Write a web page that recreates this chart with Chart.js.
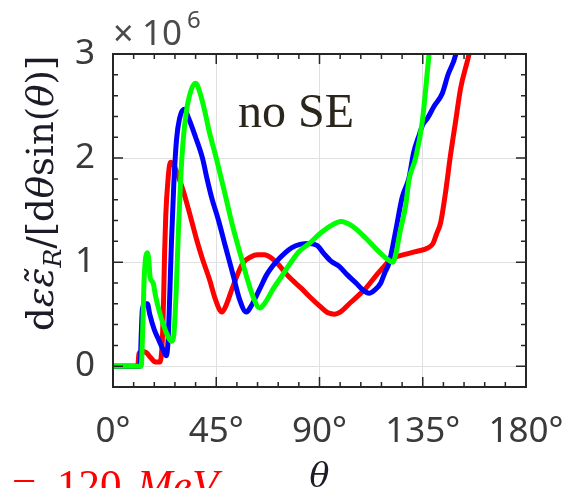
<!DOCTYPE html>
<html>
<head>
<meta charset="utf-8">
<script src="https://cdn.jsdelivr.net/npm/chart.js@4.4.1/dist/chart.umd.min.js"></script>
<style>
  html, body { margin: 0; padding: 0; background: #fff; }
</style>
</head>
<body>
<canvas id="myChart" width="566" height="488"></canvas>
<script>
// emission angle (deg) and dE/(dtheta sin theta) in units of 1e6
var thetaRed = [0, 10.8, 11.3, 12.5, 14.5, 16.5, 18.5, 20.5, 21.5, 22, 22.5, 23, 24, 25, 26.5, 29, 30.4, 33, 36.4, 39, 42.1, 44.5, 46.5, 47.5, 49, 52, 55, 57, 60, 63, 66, 69, 72, 75, 78, 82, 85.6, 90, 94, 96.5, 99, 103, 107, 110.2, 115, 119, 121, 124.7, 131.9, 137.5, 139.5, 141, 142.8, 145, 147.1, 149.3, 151.5, 155.1, 157];
var valRed   = [0, 0, 0.12, 0.14, 0.13, 0.08, 0.04, 0.04, 0.25, 0.6, 1.1, 1.45, 1.8, 1.96, 1.93, 1.79, 1.7, 1.5, 1.22, 1.03, 0.83, 0.65, 0.54, 0.52, 0.57, 0.75, 0.92, 1.0, 1.05, 1.07, 1.07, 1.04, 0.98, 0.9, 0.83, 0.75, 0.67, 0.58, 0.51, 0.5, 0.52, 0.6, 0.68, 0.75, 0.88, 0.98, 1.03, 1.06, 1.1, 1.14, 1.18, 1.27, 1.38, 1.68, 2.03, 2.35, 2.67, 2.99, 3.2];

var thetaBlue = [0, 11.8, 12.3, 12.8, 14, 15, 16, 18, 20, 22, 23.3, 24, 25.5, 26.5, 27.7, 29, 31, 33, 36, 39, 41, 43, 46, 49, 52.3, 55.2, 58.1, 60, 63.9, 67, 71, 75, 78, 81.5, 85.6, 89, 92, 95, 98.6, 102, 105.9, 109, 111.6, 114, 116.7, 118.5, 120.3, 123.2, 126, 129, 131, 133.4, 135, 137, 140, 143.5, 146, 149.3, 151];
var valBlue   = [0, 0, 0.3, 0.55, 0.6, 0.6, 0.5, 0.35, 0.25, 0.15, 0.1, 0.25, 1.2, 1.75, 2.18, 2.38, 2.47, 2.38, 2.2, 2.0, 1.8, 1.62, 1.4, 1.15, 0.88, 0.64, 0.52, 0.57, 0.74, 0.88, 1.0, 1.09, 1.14, 1.17, 1.18, 1.16, 1.08, 1.01, 0.96, 0.88, 0.8, 0.73, 0.7, 0.73, 0.8, 0.9, 0.99, 1.3, 1.62, 1.81, 2.05, 2.22, 2.32, 2.38, 2.5, 2.62, 2.8, 2.99, 3.2];

var thetaGreen = [0, 12.3, 13, 13.6, 14.9, 15.6, 16.2, 17.5, 18.5, 20.4, 23.3, 25.5, 26.5, 27.5, 28.5, 29.5, 30.5, 32, 34, 36, 38, 40, 42, 45, 49.4, 52.2, 56.6, 58.1, 61, 63.9, 66, 70, 74, 77.6, 81, 85.6, 90, 95, 99.3, 104, 110.2, 115, 118.9, 122, 123.5, 125, 127.6, 129, 131.9, 134.8, 136, 137.7, 138.5];
var valGreen   = [0, 0, 0.4, 0.85, 1.09, 1.02, 0.85, 0.8, 0.68, 0.51, 0.32, 0.24, 0.3, 0.7, 1.3, 1.8, 2.15, 2.45, 2.65, 2.72, 2.62, 2.45, 2.25, 2.0, 1.6, 1.34, 0.99, 0.87, 0.67, 0.56, 0.6, 0.75, 0.88, 1.0, 1.1, 1.18, 1.27, 1.35, 1.39, 1.35, 1.23, 1.12, 1.04, 1.0, 1.1, 1.28, 1.55, 1.79, 2.0, 2.35, 2.6, 2.99, 3.2];

var xMajor = [0, 45, 90, 135, 180];
var yMajor = [0, 1, 2, 3];
var xMinorStep = 9;
var yMinorStep = 0.2;

function pts(xs, ys) {
  return xs.map(function (x, i) { return { x: x, y: ys[i] }; });
}

var tickFont = { family: 'Noto Sans', size: 35 };
var tickColor = '#3a3a3a';

function drawBox(chart) {
  var ctx = chart.ctx, a = chart.chartArea;
  var xs = chart.scales.x, ys = chart.scales.y;
  ctx.save();
  ctx.strokeStyle = '#262626';
  ctx.lineWidth = 1.5;
  ctx.beginPath();
  for (var t = 0; t <= 180; t += xMinorStep) {
    var px = xs.getPixelForValue(t);
    var len = xMajor.indexOf(t) >= 0 ? 10 : 5;
    ctx.moveTo(px, a.bottom); ctx.lineTo(px, a.bottom - len);
    ctx.moveTo(px, a.top); ctx.lineTo(px, a.top + len);
  }
  for (var k = 0; k <= 16; k++) {
    var v = -0.2 + k * yMinorStep;
    var py = ys.getPixelForValue(v);
    var len2 = Math.abs(v - Math.round(v)) < 1e-6 ? 10 : 5;
    ctx.moveTo(a.left, py); ctx.lineTo(a.left + len2, py);
    ctx.moveTo(a.right, py); ctx.lineTo(a.right - len2, py);
  }
  ctx.stroke();
  ctx.lineWidth = 2;
  ctx.strokeRect(a.left, a.top, a.right - a.left, a.bottom - a.top);
  ctx.restore();
}

function drawRuns(ctx, runs, x, y) {
  runs.forEach(function (r) {
    ctx.font = r.font;
    ctx.fillText(r.text, x, y + (r.dy || 0));
    x += ctx.measureText(r.text).width;
  });
}

// axes box, y label, exponent, panel label and energy note
var decorPlugin = {
  id: 'decor',
  afterDraw: function (chart) {
    drawBox(chart);
    var ctx = chart.ctx;
    ctx.save();
    ctx.textBaseline = 'alphabetic';
    ctx.textAlign = 'left';

    ctx.fillStyle = '#4a4a4a';
    ctx.font = '36px "Noto Sans"';
    ctx.fillText('\u00d7', 113, 46);
    ctx.font = '35px "Noto Sans"';
    ctx.fillText('10', 142, 45);
    ctx.font = '24px "Noto Sans"';
    ctx.fillText('6', 187, 28);

    ctx.fillStyle = '#2b261c';
    ctx.font = '48px "Liberation Serif"';
    ctx.fillText('no SE', 238, 127);

    ctx.save();
    ctx.translate(53, 331);
    ctx.rotate(-Math.PI / 2);
    ctx.fillStyle = '#1c1c28';
    var rm = '37px "DejaVu Serif"', it = 'italic 37px "DejaVu Serif"';
    drawRuns(ctx, [
      { text: 'd', font: rm },
      { text: '\u03b5\u03b5\u0303', font: it },
      { text: 'R', font: 'italic 25px "DejaVu Serif"', dy: 8 },
      { text: '/[d', font: rm },
      { text: '\u03b8', font: it },
      { text: 'sin(', font: rm },
      { text: '\u03b8', font: it },
      { text: ')]', font: rm }
    ], 0, 0);
    ctx.restore();

    ctx.fillStyle = '#ff0000';
    ctx.font = '43px "Liberation Serif"';
    ctx.fillText('=', 12, 499);
    ctx.fillText('120', 57, 499);
    ctx.font = 'italic 43px "Liberation Serif"';
    ctx.fillText('MeV', 137, 499);
    ctx.restore();
  }
};

var ctx = document.getElementById('myChart').getContext('2d');
var myChart = new Chart(ctx, {
  type: 'line',
  data: {
    datasets: [
      { label: 'red', data: pts(thetaRed, valRed), borderColor: '#ff0000', order: 3 },
      { label: 'blue', data: pts(thetaBlue, valBlue), borderColor: '#0000ff', order: 2 },
      { label: 'green', data: pts(thetaGreen, valGreen), borderColor: '#00ff00', order: 1 }
    ]
  },
  options: {
    responsive: false,
    animation: false,
    layout: { padding: { top: 54, right: 40, bottom: 0, left: 0 } },
    datasets: {
      line: {
        borderWidth: 5,
        pointRadius: 0,
        fill: false,
        cubicInterpolationMode: 'monotone',
        clip: 0
      }
    },
    plugins: { legend: { display: false }, tooltip: { enabled: false } },
    scales: {
      x: {
        type: 'linear',
        min: 0,
        max: 180,
        afterBuildTicks: function (s) { s.ticks = xMajor.map(function (v) { return { value: v }; }); },
        afterFit: function (s) { s.height = 101; },
        ticks: {
          font: tickFont,
          color: tickColor,
          padding: 0,
          maxRotation: 0,
          autoSkip: false,
          callback: function (v) { return v + '\u00b0'; }
        },
        grid: { color: '#e0e0e0', lineWidth: 1, drawTicks: true, tickLength: 24, tickColor: 'rgba(0,0,0,0)' },
        border: { display: false },
        title: {
          display: true,
          text: '\u03b8',
          color: '#1c1c28',
          font: { family: 'DejaVu Serif', style: 'italic', size: 33, lineHeight: 0.6 },
          padding: 0
        }
      },
      y: {
        type: 'linear',
        min: -0.2,
        max: 3,
        afterBuildTicks: function (s) { s.ticks = yMajor.map(function (v) { return { value: v }; }); },
        afterFit: function (s) { s.width = 113; },
        ticks: { font: tickFont, color: tickColor, padding: 18 },
        grid: { color: '#e0e0e0', lineWidth: 1, drawTicks: false },
        border: { display: false }
      }
    }
  },
  plugins: [decorPlugin]
});
</script>
</body>
</html>
